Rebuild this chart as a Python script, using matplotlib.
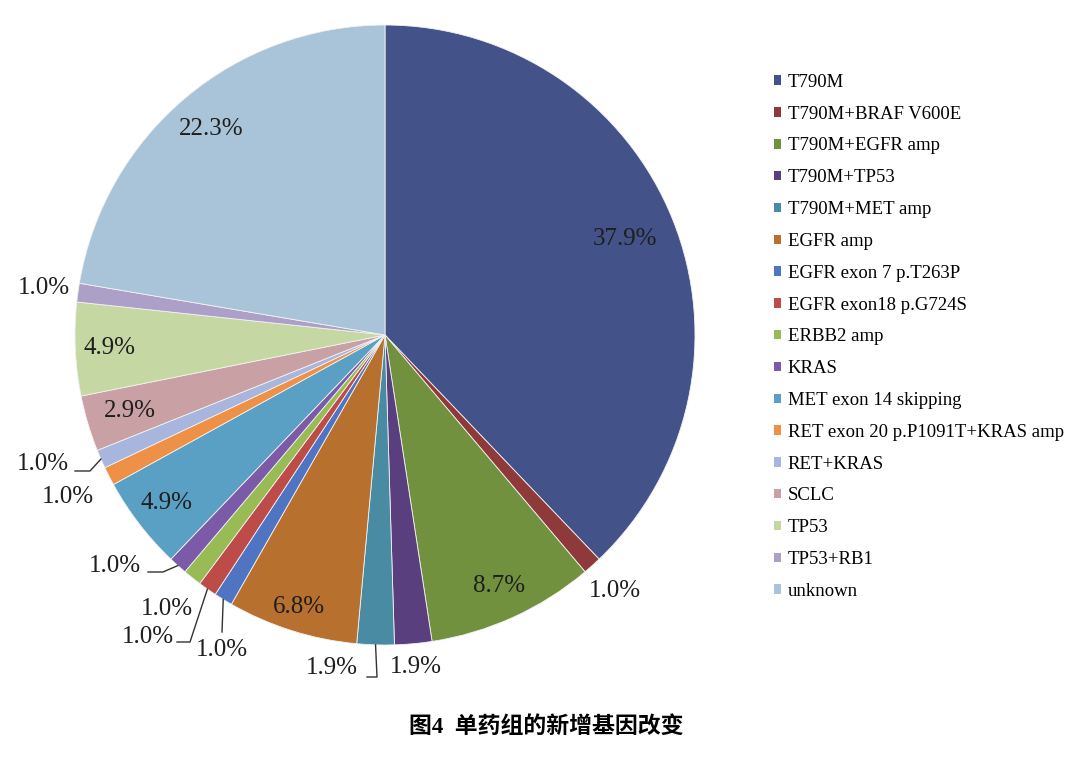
"""Pie chart of newly acquired gene alterations in the monotherapy group."""

import matplotlib

matplotlib.use("Agg")
import matplotlib.pyplot as plt
from matplotlib.patches import Patch
import numpy as np

categories = [
    "T790M",
    "T790M+BRAF V600E",
    "T790M+EGFR amp",
    "T790M+TP53",
    "T790M+MET amp",
    "EGFR amp",
    "EGFR exon 7 p.T263P",
    "EGFR exon18 p.G724S",
    "ERBB2 amp",
    "KRAS",
    "MET exon 14 skipping",
    "RET exon 20 p.P1091T+KRAS amp",
    "RET+KRAS",
    "SCLC",
    "TP53",
    "TP53+RB1",
    "unknown",
]
counts = [39, 1, 9, 2, 2, 7, 1, 1, 1, 1, 5, 1, 1, 3, 5, 1, 23]
colors = [
    "#44528a", "#8e3a3a", "#72913f", "#5a3f7e", "#4a8ba4", "#b8702f",
    "#4f74c2", "#bd4b48", "#98bb55", "#7b5aa8", "#5a9fc4", "#ee9045",
    "#a8b6de", "#c9a0a3", "#c5d7a2", "#ada0c8", "#a9c4d8",
]
title = "图4  单药组的新增基因改变"

W, H = 1080, 762
CX, CY, R = 385, 335, 310  # pie centre / radius in pixels


def px(x, y):
    """Pixel position (origin top-left) -> data coords of the full-figure axes."""
    return (x - CX) / R, (CY - y) / R


# label placement: radius factor along the mid angle, or None for leader labels
label_radius = [0.835, 1.11, 0.89, 1.075, None, 0.92, None, None, 1.13,
                None, 0.89, 1.15, None, 0.86, 0.89, 1.11, 0.87]
# leader labels: text centre and elbow points (pixels), start is on the wedge edge
leaders = {
    4: ((332, 668), [(377, 677), (367, 677)]),
    6: ((222, 650), [(222, 632)]),
    7: ((148, 637), [(190, 642), (177, 642)]),
    9: ((115, 566), [(163, 572), (148, 572)]),
    12: ((43, 464), [(90, 471), (75, 471)]),
}

fig = plt.figure(figsize=(W / 100, H / 100), dpi=100)
ax = fig.add_axes([0, 0, 1, 1])
wedges, _ = ax.pie(
    counts,
    colors=colors,
    startangle=90,
    counterclock=False,
    radius=1.0,
    center=(0, 0),
    wedgeprops={"edgecolor": "#f2f2f2", "linewidth": 0.6},
)
ax.set_xlim(-CX / R, (W - CX) / R)
ax.set_ylim(-(H - CY) / R, CY / R)
ax.axis("off")

total = sum(counts)
serif = ["Liberation Serif", "DejaVu Serif"]
for i, w in enumerate(wedges):
    mid = np.deg2rad((w.theta1 + w.theta2) / 2)
    text = f"{counts[i] / total * 100:.1f}%"
    if label_radius[i] is not None:
        r = label_radius[i]
        ax.text(r * np.cos(mid), r * np.sin(mid), text, ha="center", va="center",
                fontsize=18, family=serif, color="#1e1e1e")
    else:
        (tx, ty), elbows = leaders[i]
        pts = [(np.cos(mid), np.sin(mid))] + [px(*p) for p in elbows]
        xs, ys = zip(*pts)
        ax.plot(xs, ys, color="#333333", linewidth=1.0)
        ax.text(*px(tx, ty), text, ha="center", va="center",
                fontsize=18, family=serif, color="#1e1e1e")

handles = [Patch(facecolor=c, edgecolor="none") for c in colors]
fig.legend(
    handles,
    categories,
    loc="upper left",
    bbox_to_anchor=(757 / W, 1 - 57 / H),
    frameon=False,
    prop={"family": serif, "size": 13.5},
    labelspacing=0.79,
    handlelength=0.4,
    handleheight=0.4,
    handletextpad=0.35,
)

fig.text(546 / W, 1 - 727 / H, title, ha="center", va="center", fontsize=16.5,
         fontweight="bold", family=["Liberation Serif", "Noto Sans CJK SC"])

fig.savefig("out.png", dpi=100, facecolor="white")
